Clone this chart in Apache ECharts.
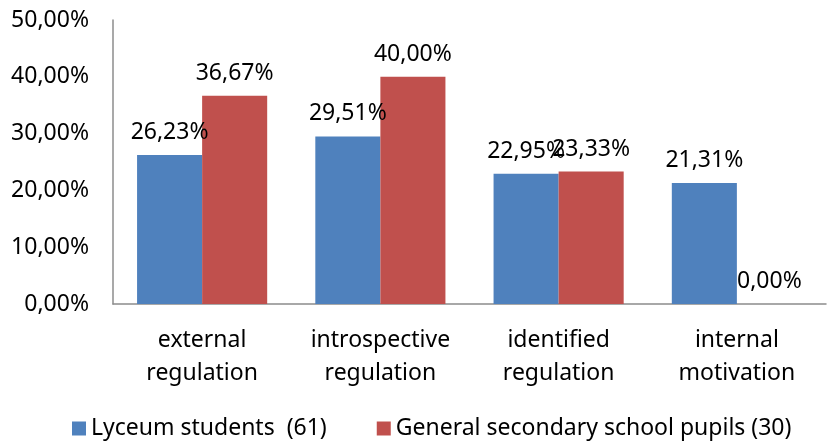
<!DOCTYPE html>
<html>
<head>
<meta charset="utf-8">
<script src="https://cdn.jsdelivr.net/npm/echarts@6/dist/echarts.min.js"></script>
<style>
  html, body { margin: 0; padding: 0; background: #fff; }
  #chart { width: 827px; height: 443px; }
</style>
</head>
<body>
<div id="chart"></div>
<script>
// categories on the x axis
const categories = ['external\nregulation', 'introspective\nregulation', 'identified\nregulation', 'internal\nmotivation']
// series
const seriesNames = ['Lyceum students  (61)', 'General secondary school pupils (30)']
const lyceumValues = [26.23, 29.51, 22.95, 21.31]
const generalValues = [36.67, 40.00, 23.33, 0.00]
// y axis ticks
const yMin = 0
const yMax = 50
const yStep = 10

const fontFamily = '"Noto Sans", "DejaVu Sans", sans-serif'
const fontSize = 23
const pct = v => Number(v).toFixed(2).replace('.', ',') + '%'

const chart = echarts.init(document.getElementById('chart'))

const labelStyle = {
  show: true,
  position: 'top',
  distance: 11,
  color: '#000',
  fontSize: fontSize,
  fontFamily: fontFamily,
  formatter: p => pct(p.value)
}

const option = {
  animation: false,
  grid: {
    left: 113,
    right: 1,
    top: 20,
    bottom: 139
  },
  legend: {
    top: 412,
    left: 67,
    itemWidth: 14,
    itemHeight: 14,
    itemGap: 50,
    icon: 'rect',
    textStyle: {
      color: '#000',
      fontSize: fontSize,
      fontFamily: fontFamily
    },
    data: seriesNames
  },
  xAxis: {
    type: 'category',
    data: categories,
    axisLine: { lineStyle: { color: '#8c8c8c', width: 1.5 } },
    axisTick: { show: false },
    axisLabel: {
      interval: 0,
      hideOverlap: false,
      color: '#000',
      fontSize: fontSize,
      fontFamily: fontFamily,
      lineHeight: 33,
      margin: 20
    }
  },
  yAxis: {
    type: 'value',
    min: yMin,
    max: yMax,
    interval: yStep,
    axisLine: { show: true, lineStyle: { color: '#8c8c8c', width: 1.5 } },
    axisTick: { show: false },
    splitLine: { show: false },
    axisLabel: {
      color: '#000',
      fontSize: fontSize,
      fontFamily: fontFamily,
      margin: 24,
      formatter: v => pct(v)
    }
  },
  series: [
    {
      name: seriesNames[0],
      type: 'bar',
      data: lyceumValues,
      barGap: '0%',
      barCategoryGap: '27%',
      itemStyle: { color: '#4f81bd' },
      label: labelStyle
    },
    {
      name: seriesNames[1],
      type: 'bar',
      data: generalValues,
      itemStyle: { color: '#c0504d' },
      label: labelStyle
    }
  ]
}

chart.setOption(option)
</script>
</body>
</html>
